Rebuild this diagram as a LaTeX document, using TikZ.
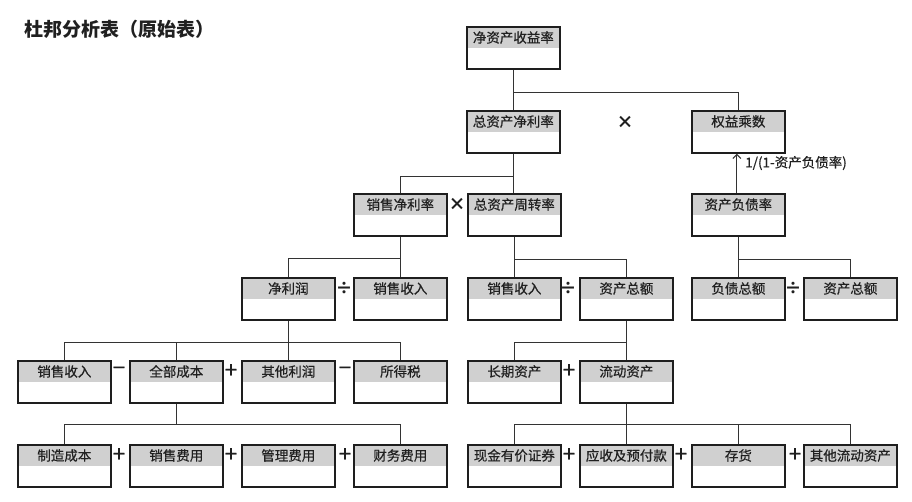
\documentclass[tikz,border=0pt]{standalone}
\usepackage{fontspec}
\setmainfont{Noto Sans CJK SC}
\newfontfamily\boxfont{Noto Sans CJK SC}[FakeBold=0.5]
\usetikzlibrary{arrows.meta}
\definecolor{hdr}{HTML}{D0D0D0}
\definecolor{bord}{HTML}{1E1E1E}
\definecolor{lnc}{HTML}{333333}
\definecolor{txc}{HTML}{202020}
\tikzset{
  bbox/.style={draw=bord, line width=1.7pt, minimum width=93pt, minimum height=42pt,
    inner sep=0pt, anchor=north west, fill=white,
    path picture={\fill[hdr] (path picture bounding box.north west) rectangle ([yshift=-21pt]path picture bounding box.north east);}},
  btext/.style={font=\boxfont\fontsize{13.5}{14}\selectfont, text=txc, inner sep=0pt},
  conn/.style={draw=lnc, line width=1.3pt},
  opr/.style={font=\boxfont\fontsize{22}{24}\selectfont, text=txc, inner sep=0pt},
  oprb/.style={font=\bfseries\fontsize{17}{18}\selectfont, text=txc, inner sep=0pt},
}
\newcommand\dbox[4]{%
  \node[bbox] (#1) at (#2,#3) {};
  \node[btext] (#1t) at ([yshift=-11.5pt]#1.north) {#4};
}
\begin{document}
\begin{tikzpicture}[x=1pt,y=-1pt]
\useasboundingbox (0,0) rectangle (912,501);
\node[anchor=west, font=\bfseries\fontsize{19}{20}\selectfont, text=txc, inner sep=0pt] (title) at (24,29) {杜邦分析表（原始表）};
% row 0
\dbox{roe}{466}{26}{净资产收益率}
% row 1
\dbox{tan}{466}{110}{总资产净利率}
\dbox{em}{691}{110}{权益乘数}
% row 2
\dbox{npm}{353}{193}{销售净利率}
\dbox{tat}{467}{193}{总资产周转率}
\dbox{dr}{691}{193}{资产负债率}
% row 3
\dbox{np}{241}{277}{净利润}
\dbox{sa}{353}{277}{销售收入}
\dbox{sb}{467}{277}{销售收入}
\dbox{taa}{579}{277}{资产总额}
\dbox{td}{691}{277}{负债总额}
\dbox{tab}{803}{277}{资产总额}
% row 4
\dbox{sc}{17}{360}{销售收入}
\dbox{tc}{129}{360}{全部成本}
\dbox{op}{241}{360}{其他利润}
\dbox{tax}{353}{360}{所得税}
\dbox{la}{467}{360}{长期资产}
\dbox{ca}{579}{360}{流动资产}
% row 5
\dbox{mc}{17}{444}{制造成本}
\dbox{se}{129}{444}{销售费用}
\dbox{me}{241}{444}{管理费用}
\dbox{fe}{353}{444}{财务费用}
\dbox{cash}{467}{444}{现金有价证券}
\dbox{ar}{579}{444}{应收及预付款}
\dbox{inv}{691}{444}{存货}
\dbox{oca}{803}{444}{其他流动资产}
% junction coordinates
\path (roe.south) ++(0,23) coordinate (k1);
\path (tan.south) ++(0,23) coordinate (k2);
\path (npm.south) ++(0,22) coordinate (k3a);
\path (tat.south) ++(0,23) coordinate (k3b);
\path (dr.south) ++(0,23) coordinate (k3c);
\path (np.south) ++(0,22) coordinate (k4a);
\path (taa.south) ++(0,22) coordinate (k4b);
\path (tc.south) ++(0,21) coordinate (k5a);
\path (ca.south) ++(0,21) coordinate (k5b);
% connectors
\draw[conn] (roe.south) -- (tan.north);
\draw[conn] (k1) -| (em.north);
\draw[conn] (tan.south) -- (tan.south |- tat.north);
\draw[conn] (k2) -| (npm.north);
\draw[conn] (npm.south) -- (sa.north);
\draw[conn] (k3a) -| (np.north);
\draw[conn] (tat.south) -- (sb.north);
\draw[conn] (k3b) -| (taa.north);
\draw[conn] (dr.south) -- (td.north);
\draw[conn] (k3c) -| (tab.north);
\draw[conn] (np.south) -- (op.north);
\draw[conn] (sc.north) |- (k4a) -| (tax.north);
\draw[conn] (tc.north) -- (tc.north |- k4a);
\draw[conn] (taa.south) -- (ca.north);
\draw[conn] (k4b) -| (la.north);
\draw[conn] (tc.south) -- (k5a);
\draw[conn] (mc.north) |- (k5a) -| (fe.north);
\draw[conn] (ca.south) -- (ar.north);
\draw[conn] (cash.north) |- (k5b) -| (oca.north);
\draw[conn] (inv.north) -- (inv.north |- k5b);
\draw[conn, line width=1.1pt, -{Straight Barb[length=4pt,width=8pt]}] ([xshift=-1.5pt]dr.north) -- ([xshift=-1.5pt]em.south);
\node[anchor=west, font=\boxfont\fontsize{13.5}{14}\selectfont, text=txc, inner sep=0pt] (lab) at (745,163) {1/(1-资产负债率)};
% operators
\node[oprb] (o1) at (625,122) {×};
\node[oprb] (o2) at (457,204) {×};
\node[oprb] (o3) at (344,288) {÷};
\node[oprb] (o4) at (568,288) {÷};
\node[oprb] (o5) at (793,288) {÷};
\node[opr] (o6) at (119,371) {−};
\node[opr] (o7) at (231,371) {+};
\node[opr] (o8) at (345,371) {−};
\node[opr] (o9) at (569,371) {+};
\node[opr] (o10) at (119,455) {+};
\node[opr] (o11) at (231,455) {+};
\node[opr] (o12) at (345,455) {+};
\node[opr] (o13) at (569,455) {+};
\node[opr] (o14) at (681,455) {+};
\node[opr] (o15) at (795,455) {+};
\end{tikzpicture}
\end{document}
